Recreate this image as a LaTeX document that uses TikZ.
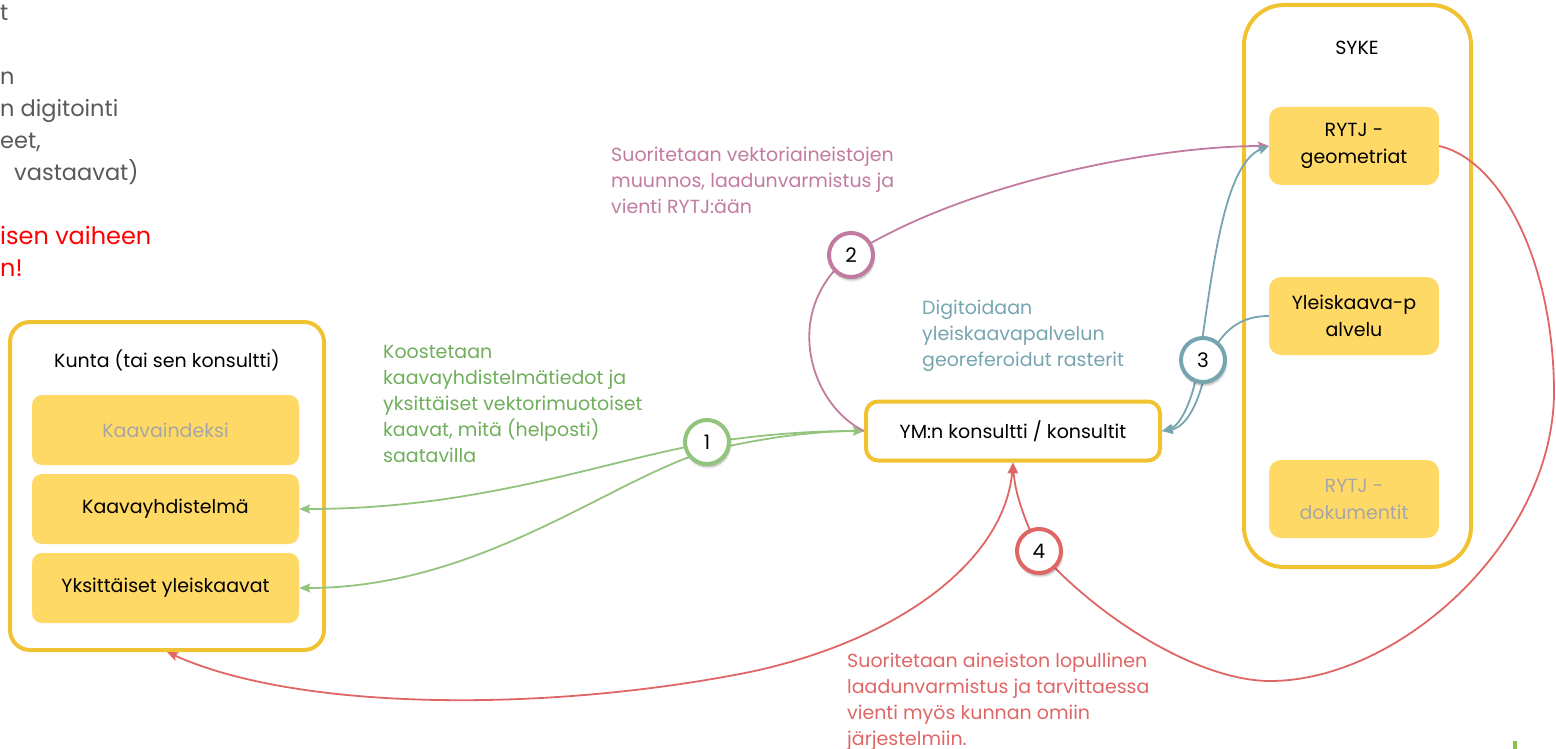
\documentclass[tikz,border=0pt]{standalone}
\usepackage{fontspec}
\setmainfont{Poppins}
\usetikzlibrary{arrows.meta,shadows.blur,calc}
\definecolor{ybord}{HTML}{F1C232}
\definecolor{yfill}{HTML}{FFD966}
\definecolor{cgreen}{HTML}{93C47D}
\definecolor{tgreen}{HTML}{6FAE5A}
\definecolor{cpink}{HTML}{C27BA0}
\definecolor{cteal}{HTML}{76A5AF}
\definecolor{cred}{HTML}{E06666}
\definecolor{gtext}{HTML}{595959}
\definecolor{ltgray}{HTML}{A6A6A6}
\definecolor{cmark}{HTML}{8BC34A}
\begin{document}
\begin{tikzpicture}[x=1pt,y=-1pt,
  every node/.style={font=\fontsize{19}{26}\selectfont, inner sep=0pt},
  outerbox/.style={draw=ybord, line width=4pt, rounded corners=20pt, fill=white},
  kbox/.style={fill=yfill, rounded corners=10pt, minimum width=267pt, minimum height=70pt, align=center},
  sbox/.style={fill=yfill, rounded corners=12pt, minimum width=170pt, minimum height=78pt, align=center, font=\fontsize{19}{27}\selectfont},
  num/.style={circle, fill=white, line width=4pt, minimum size=44pt, font=\fontsize{20}{22}\selectfont,
    blur shadow={shadow xshift=1pt, shadow yshift=-3pt, shadow opacity=35, shadow blur steps=6}},
  conn/.style={line width=1.8pt, >={Stealth[length=11pt,width=9pt,inset=2pt]}},
  note/.style={anchor=base west, align=left},
]
\useasboundingbox (0,0) rectangle (1556,749);

% cut-off text at top left (base anchor = last line's baseline)
\node[note, font=\fontsize{22.5}{32}\selectfont, text=gtext] (cut) at (0,276)
  {t\\\mbox{}\\n\\n digitointi\\eet,\\\hspace*{14pt}vastaavat)\\\mbox{}\\\textcolor{red}{\fontsize{24}{32}\selectfont isen vaiheen}\\\textcolor{red}{\fontsize{24}{32}\selectfont n!}};

% Kunta
\node[outerbox, minimum width=314pt, minimum height=328pt] (kunta) at (167,486) {};
\node (kuntat) at (167,360) {Kunta (tai sen konsultti)};
\node[kbox, text=ltgray] (kidx) at (165.5,430) {Kaavaindeksi};
\node[kbox] (kyh) at (165.5,509) {Kaavayhdistelmä};
\node[kbox] (kyks) at (165.5,588) {Yksittäiset yleiskaavat};

% YM
\node[outerbox, rounded corners=12pt, minimum width=294pt, minimum height=59pt] (ym) at (1013,431) {YM:n konsultti / konsultit};

% SYKE
\node[outerbox, rounded corners=40pt, minimum width=227pt, minimum height=562pt] (syke) at (1357.5,286) {};
\node (syket) at (1357,48) {SYKE};
\node[sbox] (rg) at (1354,146) {RYTJ -\\geometriat};
\node[sbox] (yp) at (1354,316) {Yleiskaava-p\\alvelu};
\node[sbox, text=ltgray] (rd) at (1354,499) {RYTJ -\\dokumentit};

% circles (positions)
\coordinate (p1) at (707,442);
\coordinate (p2) at (851,255);
\coordinate (p3) at (1203,360);
\coordinate (p4) at (1039,551);

% green connectors
\draw[conn, cgreen, <->] (kyh.east) .. controls (480,509) and (600,462) .. (707,443) .. controls (770,433) and (820,431) .. (ym.west);
\draw[conn, cgreen, <->] (kyks.east) .. controls (480,588) and (610,480) .. (707,451) .. controls (770,436) and (820,431) .. (ym.west);

% pink connector
\draw[conn, cpink, ->] (ym.west) .. controls (810,405) and (780,310) .. (p2) .. controls (960,185) and (1150,146) .. (rg.west);

% teal connectors
\draw[conn, cteal, <->] (ym.east) .. controls (1180,426) and (1194,400) .. (1199,360) .. controls (1212,280) and (1222,165) .. (rg.west);
\draw[conn, cteal, ->] (yp.west) .. controls (1240,316) and (1222,330) .. (1207,362) .. controls (1200,405) and (1185,428) .. (ym.east);

% red connectors
\draw[conn, cred, ->] (rg.east) .. controls (1500,160) and (1553,260) .. (1554,390) .. controls (1555,540) and (1400,681) .. (1270,681) .. controls (1200,681) and (1100,620) .. (p4) .. controls (1025,520) and (1015,495) .. (ym.south);
\draw[conn, cred, <->] (ym.south) .. controls (1005,560) and (900,640) .. (750,672) .. controls (550,712) and (300,712) .. (kunta.south);

% number circles
\node[num, draw=cgreen] (c1) at (p1) {1};
\node[num, draw=cpink] (c2) at (p2) {2};
\node[num, draw=cteal] (c3) at (p3) {3};
\node[num, draw=cred] (c4) at (p4) {4};

% labels (base anchor = last line's baseline)
\node[note, text=tgreen] (t1) at (383,462) {Koostetaan\\kaavayhdistelmätiedot ja\\yksittäiset vektorimuotoiset\\kaavat, mitä (helposti)\\saatavilla};
\node[note, text=cpink] (t2) at (611,213) {Suoritetaan vektoriaineistojen\\muunnos, laadunvarmistus ja\\vienti RYTJ:ään};
\node[note, text=cteal] (t3) at (922,366) {Digitoidaan\\yleiskaavapalvelun\\georeferoidut rasterit};
\node[note, text=cred] (t4) at (847,745) {Suoritetaan aineiston lopullinen\\laadunvarmistus ja tarvittaessa\\vienti myös kunnan omiin\\järjestelmiin.};

% small mark bottom right
\fill[cmark] (1513,741) rectangle (1517,749);
\end{tikzpicture}
\end{document}
